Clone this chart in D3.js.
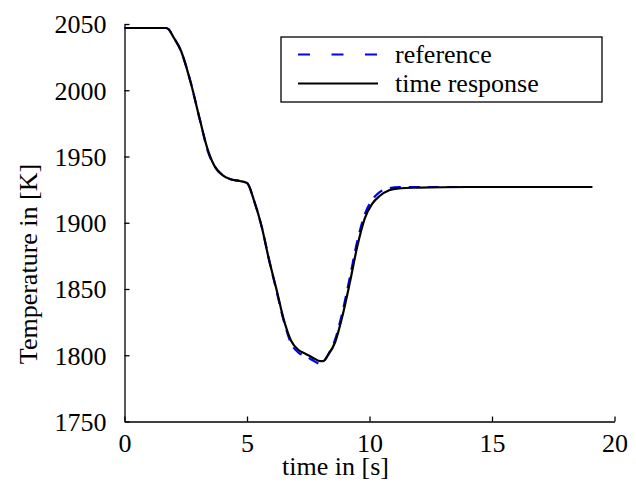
<!DOCTYPE html>
<html>
<head>
<meta charset="utf-8">
<script src="https://cdn.jsdelivr.net/npm/d3@7"></script>
<style>
  html, body { margin: 0; padding: 0; background: #fff; }
</style>
</head>
<body>
<svg id="chart" width="636" height="484"></svg>
<script>
(() => {
  "use strict";

  // data
  const time = [0, 1.0, 1.7, 1.8, 2.0, 2.3, 2.7, 3.1, 3.4, 3.7, 4.0, 4.3, 4.7, 5.0,
    5.3, 5.6, 5.9, 6.2, 6.5, 6.8, 7.1, 7.4, 7.7, 8.0, 8.1, 8.3, 8.6, 8.9, 9.2, 9.5,
    9.8, 10.1, 10.4, 10.8, 11.2, 12, 14, 16, 19.1];
  const reference = [2047, 2047, 2047, 2046, 2040, 2030, 2006, 1976, 1954, 1942, 1936, 1933, 1931.5, 1930,
    1916, 1897, 1872, 1849, 1826, 1809, 1802, 1799.5, 1796, 1793.5, 1794.5, 1800, 1812, 1833, 1859, 1886,
    1906, 1917, 1923, 1926, 1927, 1927, 1927, 1927, 1927];
  const response = [2047, 2047, 2047, 2046, 2040, 2030, 2006, 1976, 1955, 1942, 1936, 1933, 1931.5, 1930,
    1916, 1897, 1872, 1850, 1827, 1811, 1804, 1801, 1798, 1795.5, 1795.5, 1800, 1810, 1830, 1855, 1882,
    1903, 1914, 1920, 1924.5, 1926, 1926.5, 1927, 1927, 1927];
  const xTicks = [0, 5, 10, 15, 20];
  const yTicks = [1750, 1800, 1850, 1900, 1950, 2000, 2050];
  const seriesNames = ["reference", "time response"];

  const FONT = '"Liberation Serif", "Times New Roman", serif';
  const fs = 26;

  const svg = d3.select("#chart")
    .style("font-family", FONT);
  const m = { left: 124.5, right: 614.5, top: 24, bottom: 421.5 };

  const x = d3.scaleLinear().domain([0, 20]).range([m.left, m.right]);
  const y = d3.scaleLinear().domain([1750, 2050]).range([m.bottom, m.top]);

  // axes (only left + bottom, ticks pointing inward)
  const gx = svg.append("g").attr("transform", `translate(0,${m.bottom})`)
    .call(d3.axisBottom(x).tickValues(xTicks).tickFormat(d3.format("d"))
      .tickSize(-5).tickSizeOuter(0).tickPadding(13));
  const gy = svg.append("g").attr("transform", `translate(${m.left},0)`)
    .call(d3.axisLeft(y).tickValues(yTicks).tickFormat(d3.format("d"))
      .tickSize(-5).tickSizeOuter(0).tickPadding(18));

  [gx, gy].forEach(g => {
    g.attr("font-family", null).attr("font-size", null);
    g.select(".domain").attr("stroke", "#000").attr("stroke-width", 1.3);
    g.selectAll(".tick line").attr("stroke", "#000").attr("stroke-width", 1.3);
    g.selectAll(".tick text")
      .style("font-family", FONT).style("font-size", fs + "px").attr("fill", "#000");
  });
  gx.selectAll(".tick text").attr("dy", "0.69em");
  gy.selectAll(".tick text").attr("dy", "0.34em");

  // axis titles
  svg.append("text")
    .attr("x", 335.5).attr("y", 474.5)
    .attr("text-anchor", "middle").style("font-size", fs + "px")
    .text("time in [s]");
  svg.append("text")
    .attr("transform", "translate(36.5,264) rotate(-90)")
    .attr("text-anchor", "middle").style("font-size", fs + "px")
    .text("Temperature in [K]");

  // lines
  const line = d3.line().x((d, i) => x(time[i])).y(d => y(d)).curve(d3.curveMonotoneX);

  svg.append("path").datum(reference)
    .attr("d", line).attr("fill", "none")
    .attr("stroke", "#0000ff").attr("stroke-width", 2.2)
    .attr("stroke-dasharray", "11,8");
  svg.append("path").datum(response)
    .attr("d", line).attr("fill", "none")
    .attr("stroke", "#000").attr("stroke-width", 2.2)
    .attr("stroke-linejoin", "round");

  // legend
  const lg = svg.append("g");
  lg.append("rect")
    .attr("x", 281).attr("y", 37).attr("width", 321).attr("height", 65)
    .attr("fill", "#fff").attr("stroke", "#000").attr("stroke-width", 1.3);
  const rows = [
    { name: seriesNames[0], stroke: "#0000ff", dash: "12,21.5", yy: 54.5 },
    { name: seriesNames[1], stroke: "#000", dash: null, yy: 83.5 }
  ];
  rows.forEach(r => {
    lg.append("line")
      .attr("x1", 298).attr("x2", 378).attr("y1", r.yy).attr("y2", r.yy)
      .attr("stroke", r.stroke).attr("stroke-width", 2.2)
      .attr("stroke-dasharray", r.dash);
    lg.append("text")
      .attr("x", 395).attr("y", r.yy).attr("dy", "0.32em")
      .style("font-size", fs + "px").text(r.name);
  });
})();
</script>
</body>
</html>
